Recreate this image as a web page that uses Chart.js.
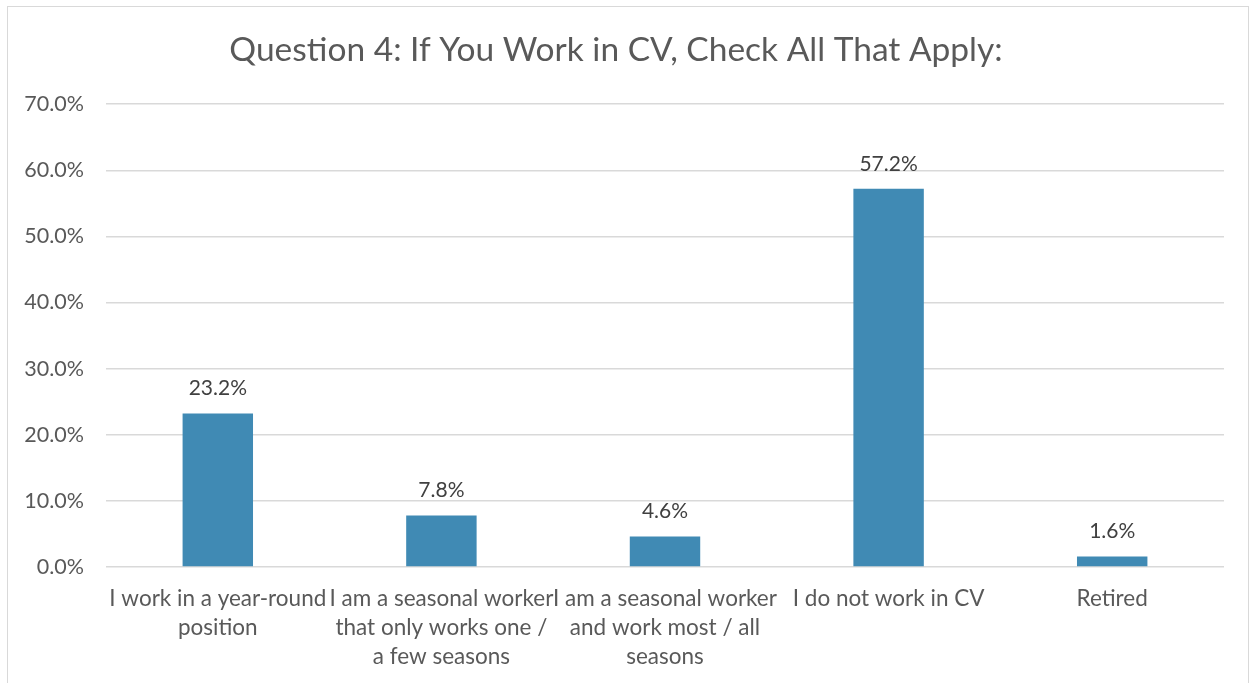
<!DOCTYPE html>
<html>
<head>
<meta charset="utf-8">
<script src="https://cdn.jsdelivr.net/npm/chart.js@4.4.1/dist/chart.umd.min.js"></script>
<style>
  html, body { margin: 0; padding: 0; background: #ffffff; overflow: hidden; }
  #frame {
    position: absolute; left: 7px; top: 6px;
    width: 1242px; height: 690px;
    border: 1px solid #d9d9d9; box-sizing: border-box;
  }
  #chart { position: absolute; left: 0; top: 0; }
</style>
</head>
<body>
<div id="frame"><canvas id="chart" width="1240" height="677"></canvas></div>
<script>
// Survey answers, share of respondents (%)
const categories = [
  ['I work in a year-round', 'position'],
  ['I am a seasonal worker', 'that only works one /', 'a few seasons'],
  ['I am a seasonal worker', 'and work most / all', 'seasons'],
  ['I do not work in CV'],
  ['Retired']
];
const shares = [23.2, 7.8, 4.6, 57.2, 1.6];
const yTicks = [0, 10, 20, 30, 40, 50, 60, 70];

const FONT = "Lato, 'Open Sans', sans-serif";
const BAR_COLOR = '#408AB4';

// value labels sitting above each bar
const barValueLabels = {
  id: 'barValueLabels',
  afterDatasetsDraw(chart) {
    const ctx = chart.ctx;
    const meta = chart.getDatasetMeta(0);
    ctx.save();
    ctx.font = '21px ' + FONT;
    ctx.fillStyle = '#404040';
    ctx.textAlign = 'center';
    ctx.textBaseline = 'middle';
    meta.data.forEach((bar, i) => {
      ctx.fillText(shares[i].toFixed(1) + '%', bar.x, bar.y - 25);
    });
    ctx.restore();
  }
};

new Chart(document.getElementById('chart'), {
  type: 'bar',
  data: {
    labels: categories,
    datasets: [{
      data: shares,
      backgroundColor: BAR_COLOR,
      borderWidth: 0,
      barPercentage: 0.315,
      categoryPercentage: 1.0
    }]
  },
  options: {
    responsive: false,
    animation: false,
    layout: { padding: { left: 0, right: 24, top: 0, bottom: 0 } },
    scales: {
      x: {
        grid: { display: false, drawTicks: false },
        border: { display: false },
        ticks: {
          autoSkip: false,
          maxRotation: 0,
          padding: 17,
          font: { family: FONT, size: 22.5, lineHeight: 1.29 },
          color: '#595959'
        },
        afterFit(scale) { scale.height = 117; }
      },
      y: {
        min: 0,
        max: 70,
        afterBuildTicks(scale) { scale.ticks = yTicks.map(v => ({ value: v })); },
        grid: { color: '#d9d9d9', lineWidth: 1.5, drawTicks: false },
        border: { display: false },
        ticks: {
          padding: 22,
          font: { family: FONT, size: 21.5 },
          color: '#595959',
          callback: v => v.toFixed(1) + '%'
        },
        afterFit(scale) { scale.width = 98; }
      }
    },
    plugins: {
      legend: { display: false },
      tooltip: { enabled: false },
      title: {
        display: true,
        text: 'Question 4: If You Work in CV, Check All That Apply:',
        color: '#595959',
        font: { family: FONT, size: 33.5, weight: 'normal', lineHeight: 1.2 },
        padding: { top: 23, bottom: 34 }
      }
    }
  },
  plugins: [barValueLabels]
});
</script>
</body>
</html>
